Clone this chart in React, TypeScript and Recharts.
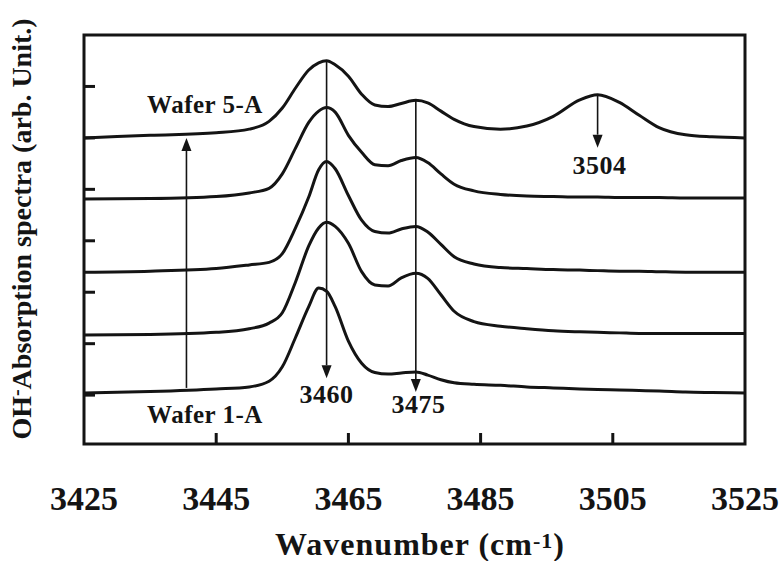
import React from 'react';
import { LineChart, Line, XAxis, YAxis, ReferenceArea, ReferenceLine, ReferenceDot } from 'recharts';

const wavenumbers = [3425, 3435, 3445, 3450, 3453, 3455, 3457, 3459, 3460.5, 3461.7, 3463, 3465, 3467, 3469, 3471, 3473, 3475.2, 3477, 3479, 3481, 3484, 3488, 3492, 3496, 3500, 3502.7, 3506, 3509, 3512, 3516, 3520, 3525];
const wafer1 = [0.04, 0.07, 0.12, 0.16, 0.27, 0.55, 1.12, 1.72, 2.08, 2.02, 1.72, 1.05, 0.62, 0.44, 0.41, 0.43, 0.45, 0.39, 0.3, 0.24, 0.21, 0.19, 0.16, 0.14, 0.12, 0.11, 0.1, 0.09, 0.08, 0.06, 0.05, 0.04];
const wafer2 = [1.17, 1.18, 1.22, 1.29, 1.4, 1.6, 2.2, 2.9, 3.25, 3.36, 3.28, 2.95, 2.4, 2.14, 2.12, 2.28, 2.37, 2.27, 1.95, 1.63, 1.43, 1.34, 1.29, 1.25, 1.23, 1.22, 1.21, 1.2, 1.2, 1.2, 1.2, 1.2];
const wafer3 = [2.39, 2.41, 2.46, 2.53, 2.58, 2.75, 3.25, 3.85, 4.38, 4.54, 4.4, 3.88, 3.4, 3.18, 3.15, 3.23, 3.28, 3.17, 2.93, 2.69, 2.55, 2.48, 2.46, 2.44, 2.43, 2.42, 2.41, 2.41, 2.4, 2.39, 2.39, 2.39];
const wafer4 = [3.81, 3.82, 3.86, 3.93, 4.02, 4.3, 4.8, 5.3, 5.52, 5.59, 5.5, 5.05, 4.72, 4.48, 4.46, 4.56, 4.62, 4.52, 4.3, 4.1, 3.97, 3.9, 3.87, 3.86, 3.85, 3.85, 3.84, 3.84, 3.84, 3.83, 3.83, 3.83];
const wafer5 = [5.0, 5.05, 5.1, 5.17, 5.32, 5.58, 5.97, 6.32, 6.46, 6.5, 6.42, 6.2, 5.85, 5.64, 5.61, 5.67, 5.73, 5.68, 5.52, 5.36, 5.22, 5.17, 5.23, 5.42, 5.74, 5.84, 5.69, 5.44, 5.2, 5.06, 5.02, 5.0];

const xTicks = [3425, 3445, 3465, 3485, 3505, 3525];
const yTicks = [0, 1, 2, 3, 4, 5, 6];

const arrowX = [3461.7, 3475.2, 3502.7, 3440.5];
const arrowFrom = [6.5, 5.73, 5.84, 0.14];
const arrowTo = [0.33, 0.06, 4.81, 5.0];

const noteText = ['3460', '3475', '3504', 'Wafer 5-A', 'Wafer 1-A'];
const noteX = [3461.7, 3475.6, 3503.0, 3443.3, 3443.3];
const noteY = [-0.155, -0.35, 4.29, 5.48, -0.54];
const noteSize = [26, 26, 26, 25, 25];

const data = wavenumbers.map((w, i) => ({
  w,
  s1: wafer1[i],
  s2: wafer2[i],
  s3: wafer3[i],
  s4: wafer4[i],
  s5: wafer5[i],
}));

const INK = '#141414';
const FONT = '"Liberation Serif", "Times New Roman", serif';

const XTick = (props: any) => {
  const { x, y, payload } = props;
  const edge = payload.value === 3425 || payload.value === 3525;
  return (
    <g>
      {!edge && <line x1={x} y1={y} x2={x} y2={y - 11} stroke={INK} strokeWidth={3} />}
      <text x={x} y={y + 66} textAnchor="middle" fontFamily={FONT} fontWeight="bold" fontSize={34} fill={INK}>
        {payload.value}
      </text>
    </g>
  );
};

const YTick = (props: any) => {
  const { x, y } = props;
  return <line x1={x} y1={y} x2={x + 11} y2={y} stroke={INK} strokeWidth={3} />;
};

const Arrow = (props: any) => {
  const { x1, y1, x2, y2 } = props;
  const dir = y2 > y1 ? 1 : -1;
  const headL = 13;
  const headW = 5;
  return (
    <g>
      <line x1={x1} y1={y1} x2={x2} y2={y2 - dir * headL} stroke={INK} strokeWidth={1.6} />
      <polygon
        points={`${x2},${y2} ${x2 - headW},${y2 - dir * headL} ${x2 + headW},${y2 - dir * headL}`}
        fill={INK}
      />
    </g>
  );
};

const YTitle = () => (
  <text
    x={31}
    y={229}
    transform="rotate(-90, 31, 229)"
    textAnchor="middle"
    fontFamily={FONT}
    fontWeight="bold"
    fontSize={28}
    fill={INK}
  >
    <tspan>OH</tspan>
    <tspan dy={-8} fontSize={20}>-</tspan>
    <tspan dy={8}>Absorption spectra (arb. Unit.)</tspan>
  </text>
);

const XTitle = () => (
  <text x={420} y={555} textAnchor="middle" fontFamily={FONT} fontWeight="bold" fontSize={32} letterSpacing={1} fill={INK}>
    <tspan>Wavenumber (cm</tspan>
    <tspan dy={-7} fontSize={22}>-1</tspan>
    <tspan dy={7}>)</tspan>
  </text>
);

export default function App() {
  const series = ['s1', 's2', 's3', 's4', 's5'];
  return (
    <div style={{ position: 'absolute', left: 0, top: 0, width: 780, height: 561, background: '#fff' }}>
      <LineChart width={780} height={561} data={data} margin={{ top: 35, right: 35, left: 0, bottom: 0 }}>
        <XAxis
          dataKey="w"
          type="number"
          domain={[3425, 3525]}
          ticks={xTicks}
          allowDataOverflow
          height={117}
          axisLine={false}
          tickLine={false}
          tickSize={0}
          tickMargin={0}
          tick={<XTick />}
          interval={0}
          label={{ content: () => <XTitle /> }}
        />
        <YAxis
          type="number"
          domain={[-0.95, 7]}
          ticks={yTicks}
          allowDataOverflow
          width={84}
          axisLine={false}
          tickLine={false}
          tickSize={0}
          tickMargin={0}
          tick={<YTick />}
          interval={0}
          label={{ content: () => <YTitle /> }}
        />
        {series.map((k) => (
          <Line
            key={k}
            dataKey={k}
            type="monotone"
            stroke={INK}
            strokeWidth={3}
            dot={false}
            activeDot={false}
            isAnimationActive={false}
          />
        ))}
        {arrowX.map((ax, i) => (
          <ReferenceLine
            key={'a' + i}
            segment={[{ x: ax, y: arrowFrom[i] }, { x: ax, y: arrowTo[i] }]}
            shape={(p: any) => <Arrow {...p} />}
          />
        ))}
        {noteText.map((t, i) => (
          <ReferenceDot
            key={'n' + i}
            x={noteX[i]}
            y={noteY[i]}
            r={0}
            shape={(p: any) => (
              <text
                x={p.cx}
                y={p.cy}
                textAnchor="middle"
                fontFamily={FONT}
                fontWeight="bold"
                fontSize={noteSize[i]}
                letterSpacing={0.5}
                fill={INK}
              >
                {t}
              </text>
            )}
          />
        ))}
        <ReferenceArea x1={3425} x2={3525} y1={-0.95} y2={7} fill="none" fillOpacity={0} stroke={INK} strokeWidth={3} />
      </LineChart>
    </div>
  );
}
